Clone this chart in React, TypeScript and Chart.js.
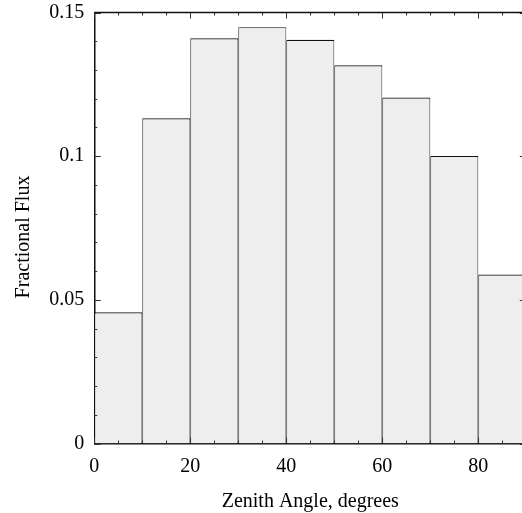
import React, { useEffect, useRef } from 'react';
import { Chart, registerables } from 'chart.js';

Chart.register(...registerables);

// ---- data ----
const binCenters = [5, 15, 25, 35, 45, 55, 65, 75, 85];
const fractionalFlux = [0.0457, 0.1132, 0.141, 0.1449, 0.1405, 0.1316, 0.1204, 0.1001, 0.0588];

const xTickValues = [0, 20, 40, 60, 80];
const xTickLabels = ['0', '20', '40', '60', '80'];
const yTickValues = [0, 0.05, 0.1, 0.15];
const yTickLabels = ['0', '0.05', '0.1', '0.15'];

const xMinorTicks = [0, 5, 10, 15, 20, 25, 30, 35, 40, 45, 50, 55, 60, 65, 70, 75, 80, 85, 90];
const yMinorTicks = [0, 0.01, 0.02, 0.03, 0.04, 0.05, 0.06, 0.07, 0.08, 0.09, 0.1, 0.11, 0.12, 0.13, 0.14, 0.15];

const xTitle = 'Zenith Angle, degrees';
const yTitle = 'Fractional Flux';

const FONT = '"Liberation Serif", "Times New Roman", serif';

const framePlugin = {
  id: 'frame',
  afterDatasetsDraw(chart: any) {
    const { ctx, chartArea: a, scales } = chart;
    const x = scales.x;
    const y = scales.y;
    ctx.save();
    const line = (x1: number, y1: number, x2: number, y2: number) => {
      ctx.beginPath();
      ctx.moveTo(x1, y1);
      ctx.lineTo(x2, y2);
      ctx.stroke();
    };
    ctx.strokeStyle = '#333';
    ctx.lineWidth = 1;
    xMinorTicks.forEach((v) => {
      const px = Math.round(x.getPixelForValue(v)) + 0.5;
      const len = xTickValues.includes(v) ? 6 : 3;
      line(px, a.bottom, px, a.bottom - len);
      line(px, a.top, px, a.top + len);
    });
    yMinorTicks.forEach((v, i) => {
      const py = Math.round(y.getPixelForValue(v)) + 0.5;
      const len = i % 5 === 0 ? 6.5 : 3;
      line(a.left, py, a.left + len, py);
      line(a.right, py, a.right - len, py);
    });
    ctx.strokeStyle = '#111';
    ctx.lineWidth = 1.5;
    line(a.left, a.top, a.right, a.top);
    line(a.right, a.top, a.right, a.bottom);

    ctx.fillStyle = '#000';
    ctx.font = `20px ${FONT}`;
    ctx.textAlign = 'center';
    ctx.textBaseline = 'alphabetic';
    ctx.fillText(xTitle, (a.left + a.right) / 2, a.bottom + 63.5);
    ctx.translate(28.5, (a.top + a.bottom) / 2 + 9);
    ctx.rotate(-Math.PI / 2);
    ctx.fillText(yTitle, 0, 0);
    ctx.restore();
  },
};

export default function App() {
  const ref = useRef<HTMLCanvasElement | null>(null);

  useEffect(() => {
    if (!ref.current) return;
    const chart = new Chart(ref.current, {
      type: 'bar',
      data: {
        datasets: [
          {
            data: binCenters.map((c, i) => ({ x: c, y: fractionalFlux[i] })),
            backgroundColor: '#eeeeee',
            borderColor: '#111111',
            borderWidth: { top: 1.2, left: 0.9, right: 0.9, bottom: 0 },
            borderSkipped: false,
            barPercentage: 1,
            categoryPercentage: 1,
            inflateAmount: 0,
          } as any,
        ],
      },
      options: {
        animation: false,
        responsive: false,
        devicePixelRatio: 1,
        layout: { padding: { left: 0, top: 12.5, right: 13.7, bottom: 0 } },
        plugins: { legend: { display: false }, tooltip: { enabled: false } },
        scales: {
          x: {
            type: 'linear',
            min: 0,
            max: 90,
            offset: false,
            grid: { display: false, drawTicks: false },
            border: { display: true, color: '#111', width: 1.5 },
            afterBuildTicks: (s: any) => {
              s.ticks = xTickValues.map((v) => ({ value: v }));
            },
            afterFit: (s: any) => {
              s.height = 69.5;
              s.paddingLeft = 0;
              s.paddingRight = 0;
            },
            ticks: {
              padding: 11,
              color: '#000',
              maxRotation: 0,
              autoSkip: false,
              font: { family: FONT, size: 20, lineHeight: 1.2 },
              callback: (_v: any, i: number) => xTickLabels[i] ?? '',
            },
          },
          y: {
            type: 'linear',
            min: 0,
            max: 0.15,
            grid: { display: false, drawTicks: false },
            border: { display: true, color: '#111', width: 1.5 },
            afterBuildTicks: (s: any) => {
              s.ticks = yTickValues.map((v) => ({ value: v }));
            },
            afterFit: (s: any) => {
              s.width = 94.3;
              s.paddingTop = 0;
              s.paddingBottom = 0;
            },
            ticks: {
              padding: 10,
              color: '#000',
              autoSkip: false,
              font: { family: FONT, size: 20, lineHeight: 1.2 },
              callback: (_v: any, i: number) => yTickLabels[i] ?? '',
            },
          },
        },
      } as any,
      plugins: [framePlugin],
    });
    return () => chart.destroy();
  }, []);

  return (
    <div
      style={{
        position: 'fixed',
        left: 0,
        top: 0,
        width: 522,
        height: 513,
        overflow: 'hidden',
        background: '#fff',
      }}
    >
      <canvas ref={ref} width={540} height={513} style={{ display: 'block', width: 540, height: 513 }} />
    </div>
  );
}
